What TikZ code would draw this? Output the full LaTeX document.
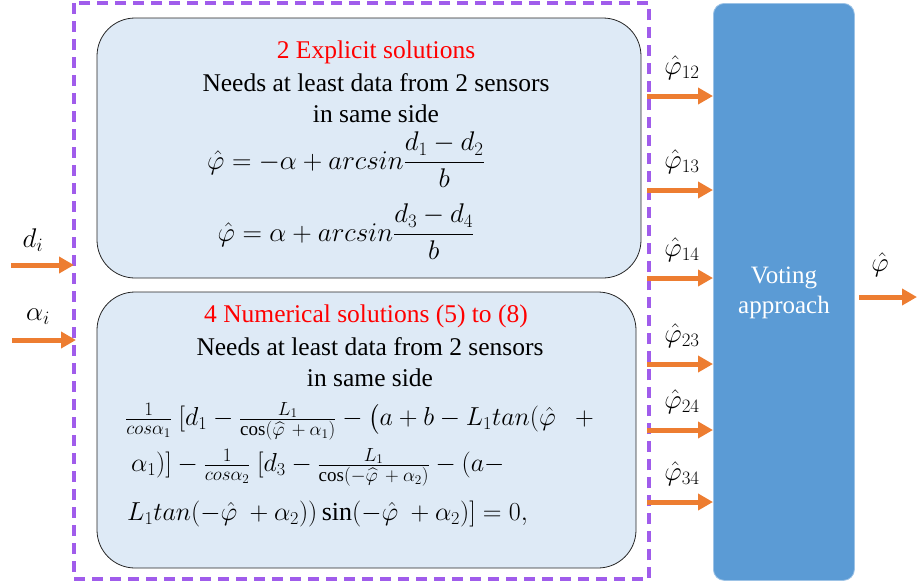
\RequirePackage{fix-cm}
\documentclass[tikz,border=0pt]{standalone}
\usepackage{amsmath}
\usepackage{fontspec}
\setmainfont{Liberation Serif}
\usetikzlibrary{arrows.meta}
\definecolor{purp}{HTML}{A05CEB}
\definecolor{orng}{HTML}{ED7D31}
\definecolor{lblue}{HTML}{DEEAF6}
\definecolor{mblue}{HTML}{5B9BD5}
\newcommand\myfr[2]{\frac{\mbox{\fontsize{19}{19}\selectfont$#1$}}{\mbox{\fontsize{19}{19}\selectfont$#2$}}}
\tikzset{
  arr/.style={orng,line width=5pt,-{Triangle[length=15pt,width=16pt]}},
  card/.style={draw=black!85,fill=lblue,rounded corners=38pt,line width=0.8pt},
  txt/.style={inner sep=0pt,font=\fontsize{25.5}{30}\selectfont},
  mlab/.style={inner sep=0pt,font=\fontsize{27}{30}\selectfont},
  meq/.style={inner sep=0pt,font=\fontsize{26}{30}\selectfont},
}
\begin{document}
\begin{tikzpicture}[x=1pt,y=-1pt]
\useasboundingbox (0,0) rectangle (917,587);
% outer dashed frame
\draw[purp,line width=3.5pt,dash pattern=on 11pt off 7pt] (74,3) rectangle (649,579);
% cards
\draw[card] (97,18) rectangle (641,278);
\draw[card] (97,292) rectangle (636,568);
% voting box
\node[fill=mblue,draw=mblue!60!white,line width=0.8pt,rounded corners=11pt,minimum width=141pt,minimum height=577pt,anchor=north west,inner sep=0pt] (vote) at (713,3) {};
\node[inner sep=0pt,font=\fontsize{25}{30}\selectfont,text=white,align=center] (votetxt) at (784,293) {Voting\\approach};
% upper texts
\node[txt,text=red] (t1) at (376,52) {2 Explicit solutions};
\node[txt] (t2) at (376,83) {Needs at least data from 2 sensors};
\node[txt] (t3) at (376,114) {in same side};
\node[mlab] (e1) at (346,160) {$\hat\varphi=-\alpha+arcsin\dfrac{d_1-d_2}{b}$};
\node[mlab] (e2) at (346,232) {$\hat\varphi=\alpha+arcsin\dfrac{d_3-d_4}{b}$};
% lower texts
\node[txt,text=red] (n1) at (366,316) {4 Numerical solutions (5) to (8)};
\node[txt] (n2) at (370,347) {Needs at least data from 2 sensors};
\node[txt] (n3) at (370,378) {in same side};
\node[meq,anchor=west] (m1) at (125,421) {$\myfr{1}{cos\alpha_1}\ [d_1-\myfr{L_1}{\cos(\widehat{\varphi}\,+\alpha_1)}-\bigl(a+b-L_1tan(\hat\varphi\ \ \ +$};
\node[meq,anchor=west] (m2) at (131,467) {$\alpha_1)]-\myfr{1}{cos\alpha_2}\ [d_3-\myfr{L_1}{\cos(-\widehat{\varphi}\,+\alpha_2)}-(a-$};
\node[meq,anchor=west] (m3) at (127,514) {$L_1tan(-\hat\varphi\ +\alpha_2))\sin(-\hat\varphi\ +\alpha_2)]=0,$};
% input arrows
\coordinate (di0) at (11,265); \coordinate (di1) at (74,265);
\coordinate (ai0) at (12,340); \coordinate (ai1) at (76,340);
\draw[arr] (di0) -- (di1);
\draw[arr] (ai0) -- (ai1);
\node[mlab] (dl) at (33,240) {$d_i$};
\node[mlab] (al) at (38,317) {$\alpha_i$};
% output arrows to voting
\foreach \y/\s/\n in {96/12/a,190/13/b,278/14/c,364/23/d,430/24/e,502/34/f}{
  \coordinate (s\n) at (647,\y);
  \draw[arr] (s\n) -- (s\n -| vote.west);
  \node[mlab] (l\n) at (682,\y-28) {$\hat\varphi_{\s}$};
}
\coordinate (o1) at (917,297);
\draw[arr] (vote.east |- o1) ++(4,0) coordinate (o0) (o0) -- (o1);
\node[mlab] (ol) at (880,265) {$\hat\varphi$};
\end{tikzpicture}
\end{document}
